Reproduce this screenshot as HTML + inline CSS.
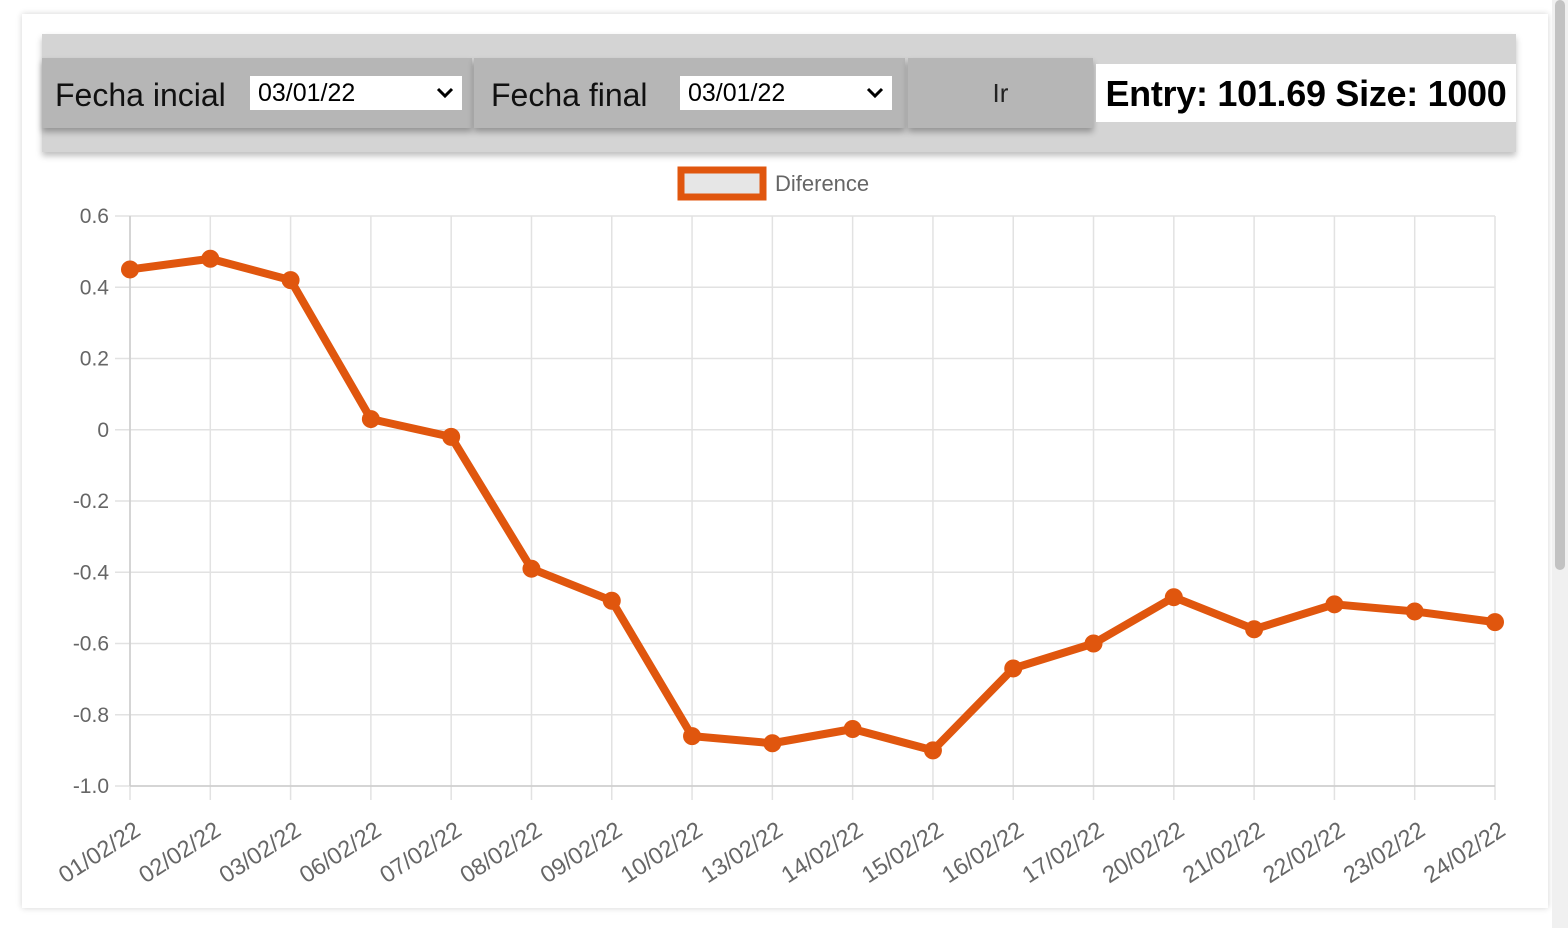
<!DOCTYPE html>
<html><head><meta charset="utf-8"><style>
body{margin:0;width:1568px;height:928px;background:#fff;position:relative;overflow:hidden;font-family:"Liberation Sans",sans-serif}
.card{position:absolute;left:22px;top:14px;width:1526px;height:894px;background:#fff;box-shadow:0 0 6px rgba(0,0,0,.18)}
.band{position:absolute;left:42px;top:34px;width:1474px;height:118px;background:#d4d4d4;box-shadow:0 4px 6px rgba(0,0,0,.25)}
.seg{position:absolute;top:58px;height:70px;background:#b6b6b6;box-shadow:0 4px 6px rgba(0,0,0,.3)}
.lbl{position:absolute;top:77px;font-size:32px;color:#111}
.sel{position:absolute;top:76px;height:34px;background:#fff;font-size:25px;line-height:34px;padding-left:8px;box-sizing:border-box}
.sel svg{position:absolute;right:8px;top:10px}
.info{position:absolute;left:1096px;top:64px;width:420px;height:58px;background:#fff;font-weight:bold;font-size:36px;line-height:60px;text-align:center;white-space:nowrap;letter-spacing:-0.3px}
.sb{position:absolute;left:1552px;top:0;width:16px;height:928px;background:#f0f0f0}
.sb div{position:absolute;left:3px;top:0;width:10px;height:570px;background:#c2c2c2;border-radius:5px}
</style></head><body>
<div class="card"></div>
<div class="band"></div>
<div class="seg" style="left:42px;width:430px"></div>
<div class="seg" style="left:474px;width:431px"></div>
<div class="seg" style="left:908px;width:185px;font-size:26px;text-align:center;line-height:70px;color:#222">Ir</div>
<div class="lbl" style="left:55px">Fecha incial</div>
<div class="sel" style="left:250px;width:212px">03/01/22<svg width="18" height="14"><polyline points="2,3 9,10 16,3" fill="none" stroke="#000" stroke-width="3"/></svg></div>
<div class="lbl" style="left:491px">Fecha final</div>
<div class="sel" style="left:680px;width:212px">03/01/22<svg width="18" height="14"><polyline points="2,3 9,10 16,3" fill="none" stroke="#000" stroke-width="3"/></svg></div>
<div class="info">Entry: 101.69 Size: 1000</div>
<div class="sb"><div></div></div>
<svg id="chart" width="1568" height="928" style="position:absolute;left:0;top:0"></svg>
<script>
const categories=["01/02/22","02/02/22","03/02/22","06/02/22","07/02/22","08/02/22","09/02/22","10/02/22","13/02/22","14/02/22","15/02/22","16/02/22","17/02/22","20/02/22","21/02/22","22/02/22","23/02/22","24/02/22"];
const values=[0.45,0.48,0.42,0.03,-0.02,-0.39,-0.48,-0.86,-0.88,-0.84,-0.90,-0.67,-0.60,-0.47,-0.56,-0.49,-0.51,-0.54];
const yTicks=[0.6,0.4,0.2,0,-0.2,-0.4,-0.6,-0.8,-1.0];
const yTickLabels=["0.6","0.4","0.2","0","-0.2","-0.4","-0.6","-0.8","-1.0"];
const ns="http://www.w3.org/2000/svg",svg=document.getElementById('chart');
const X0=130,X1=1495,Y0=216,Y1=786,ymax=0.6,ymin=-1.0;
const x=i=>X0+i*(X1-X0)/(categories.length-1);
const y=v=>Y0+(ymax-v)/(ymax-ymin)*(Y1-Y0);
function mk(t,a,txt){const e=document.createElementNS(ns,t);for(const k in a)e.setAttribute(k,a[k]);if(txt!=null)e.textContent=txt;svg.appendChild(e);return e;}
yTicks.forEach((v,i)=>{
 const g=mk('line',{x1:115,x2:X1,y1:y(v),y2:y(v),stroke:'#e2e2e2','stroke-width':1.5});
 
 
 const t=mk('text',{x:109,y:y(v)+7,'text-anchor':'end','font-size':21,fill:'#666','font-family':'Liberation Sans'},yTickLabels[i]);
 
 
});
categories.forEach((c,i)=>{
 const g=mk('line',{x1:x(i),x2:x(i),y1:Y0,y2:800,stroke:'#e2e2e2','stroke-width':1.5});
 
 
 const tx=x(i)+12,ty=834;
 const t=mk('text',{x:tx,y:ty,'text-anchor':'end','font-size':23.5,fill:'#666','font-family':'Liberation Sans',transform:`rotate(-33 ${tx} ${ty})`},c);
 
 
});
const ax=mk('line',{x1:X0,x2:X0,y1:Y0,y2:Y1,stroke:'#ccc','stroke-width':1.5});


const bx=mk('line',{x1:X0,x2:X1,y1:Y1,y2:Y1,stroke:'#ccc','stroke-width':1.5});


const p=mk('polyline',{points:values.map((v,i)=>x(i)+','+y(v)).join(' '),fill:'none',stroke:'#e0560e','stroke-width':8,'stroke-linejoin':'round'});


values.forEach((v,i)=>{
 const c=mk('circle',{cx:x(i),cy:y(v),r:9,fill:'#e0560e'});
 
 
});
const lb=mk('rect',{x:681,y:170,width:82,height:27,fill:'#e6e6e6',stroke:'#e0560e','stroke-width':7});


const lt=mk('text',{x:775,y:191,'font-size':22,fill:'#666','font-family':'Liberation Sans'},'Diference');


</script>
</body></html>
